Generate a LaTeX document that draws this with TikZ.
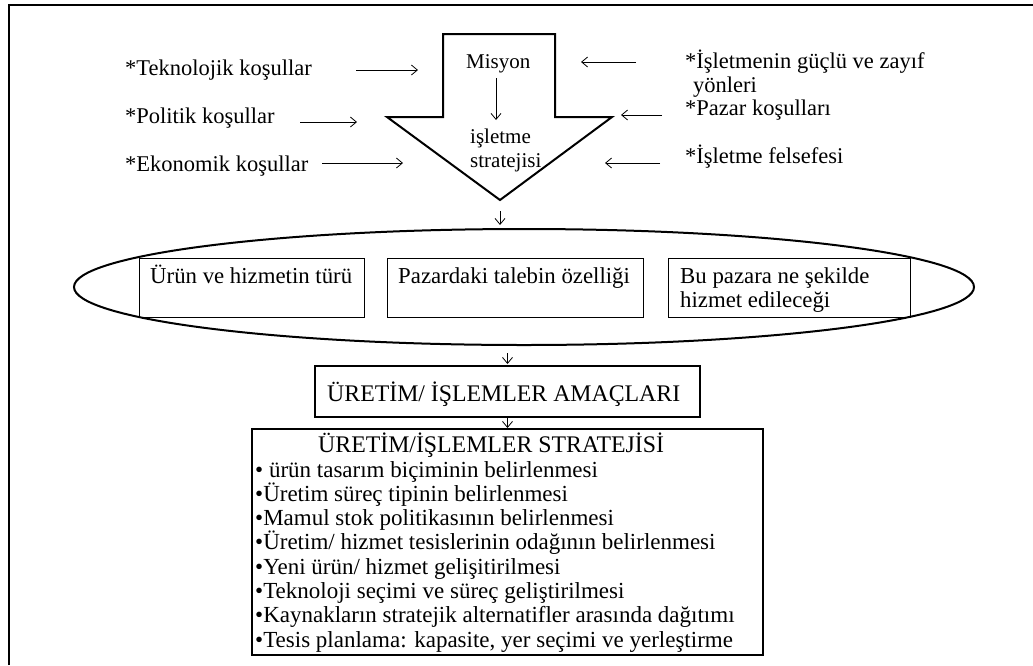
\documentclass[tikz,border=0pt]{standalone}
\usepackage{fontspec}
\setmainfont{Liberation Serif}
\usetikzlibrary{arrows.meta,shapes.geometric}

\begin{document}
\begin{tikzpicture}[x=1pt,y=-1pt,
  txt/.style={inner sep=0pt, anchor=base west},
  lbl/.style={txt, font=\fontsize{22.5}{24}\selectfont},
  midtxt/.style={txt, font=\fontsize{21}{24}\selectfont},
  boxtxt/.style={txt, font=\fontsize{22.8}{24}\selectfont},
  headtxt/.style={txt, font=\fontsize{23.8}{24}\selectfont},
  itemtxt/.style={txt, font=\fontsize{23}{24}\selectfont},
  arr/.style={line width=0.8pt, -{Straight Barb[length=6pt,width=10pt,line width=0.8pt]}},
  thinbox/.style={draw, line width=0.9pt, inner sep=0pt},
  thickbox/.style={draw, line width=2pt, inner sep=0pt},
]
\useasboundingbox (0,0) rectangle (1033,665);

% page frame (top and left edges)
\draw[line width=2.2pt] (9,665) -- (9,5) -- (1033,5);

% block arrow: mission -> business strategy
\draw[line width=2pt, line join=miter]
  (443,34) -- (555,34) -- (555,117) -- (612,117) -- (500,200)
  -- (387,117) -- (443,117) -- cycle;
\coordinate (tip) at (500,200);

\node[midtxt] (misyon) at (466,68) {Misyon};
\node[midtxt] (isl) at (470,143) {işletme};
\node[midtxt] (strat) at (470,167) {stratejisi};

% outside influences
\node[lbl] (tek) at (125,75) {*Teknolojik koşullar};
\node[lbl] (pol) at (125,123) {*Politik koşullar};
\node[lbl] (eko) at (125,171) {*Ekonomik koşullar};
\node[lbl] (guc) at (685,68) {*İşletmenin güçlü ve zayıf};
\node[lbl] (gucb) at (693,92) {yönleri};
\node[lbl] (paz) at (685,115) {*Pazar koşulları};
\node[lbl] (fel) at (685,163) {*İşletme felsefesi};

\coordinate (tk1) at (356,70);  \coordinate (tk2) at (418,70);
\coordinate (po1) at (300,122); \coordinate (po2) at (357,122);
\coordinate (ek1) at (322,163); \coordinate (ek2) at (403,163);
\coordinate (gz1) at (636,62);  \coordinate (gz2) at (581,62);
\coordinate (pz1) at (662,115); \coordinate (pz2) at (621,115);
\coordinate (fe1) at (660,163); \coordinate (fe2) at (605,163);
\coordinate (ms1) at (496,78);  \coordinate (ms2) at (496,120);

\draw[arr] (tk1) -- (tk2);
\draw[arr] (po1) -- (po2);
\draw[arr] (ek1) -- (ek2);
\draw[arr] (gz1) -- (gz2);
\draw[arr] (pz1) -- (pz2);
\draw[arr] (fe1) -- (fe2);
\draw[arr] (ms1) -- (ms2);

% strategy content ellipse
\node[ellipse, draw, line width=2pt, minimum width=900, minimum height=116,
      inner sep=0pt] (goal) at (524,287) {};
\node[thinbox, minimum width=225, minimum height=59] (b1) at (251.5,287.5) {};
\node[thinbox, minimum width=256, minimum height=59] (b2) at (515,287.5) {};
\node[thinbox, minimum width=242, minimum height=59] (b3) at (789,287.5) {};
\node[boxtxt] (t1) at (150,283) {Ürün ve hizmetin türü};
\node[boxtxt] (t2) at (398,283) {Pazardaki talebin özelliği};
\node[boxtxt] (t3) at (680,283) {Bu pazara ne şekilde};
\node[boxtxt] (t3b) at (680,307) {hizmet edileceği};

\draw[arr, shorten <=11pt, shorten >=3pt] (tip) -- (tip |- goal.north);

% operations goals and strategy
\node[thickbox, minimum width=385, minimum height=51] (amac) at (507.5,391.5) {};
\node[headtxt] (amact) at (327,401) {ÜRETİM/ İŞLEMLER AMAÇLARI};

\node[thickbox, minimum width=511, minimum height=226] (sbox) at (507.5,542) {};
\node[headtxt] (stitle) at (318,452) {ÜRETİM/İŞLEMLER STRATEJİSİ};
\node[itemtxt] (i1) at (255,477) {• ürün tasarım biçiminin belirlenmesi};
\node[itemtxt] (i2) at (255,501.3) {•Üretim süreç tipinin belirlenmesi};
\node[itemtxt] (i3) at (255,525.6) {•Mamul stok politikasının belirlenmesi};
\node[itemtxt] (i4) at (255,549.9) {•Üretim/ hizmet tesislerinin odağının belirlenmesi};
\node[itemtxt] (i5) at (255,574.2) {•Yeni ürün/ hizmet gelişitirilmesi};
\node[itemtxt] (i6) at (255,598.5) {•Teknoloji seçimi ve süreç geliştirilmesi};
\node[itemtxt] (i7) at (255,622.8) {•Kaynakların stratejik alternatifler arasında dağıtımı};
\node[itemtxt] (i8) at (255,647) {•Tesis planlama: kapasite, yer seçimi ve yerleştirme};

\draw[arr, shorten <=7pt, shorten >=1pt] (amac.north |- goal.south) -- (amac.north);
\draw[arr] (amac.south) -- (sbox.north);
\end{tikzpicture}
\end{document}
